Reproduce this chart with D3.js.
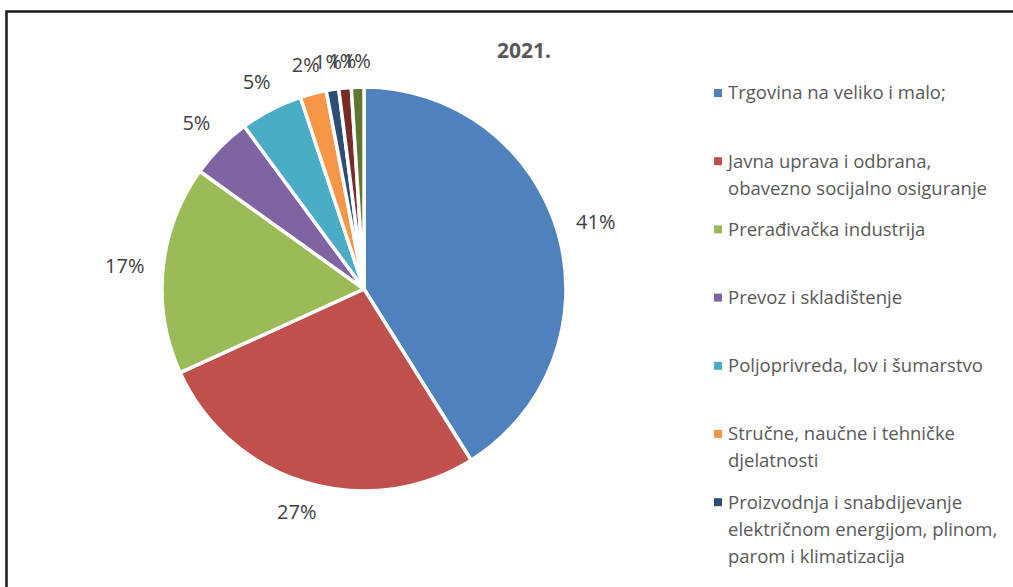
<!DOCTYPE html>
<html>
<head>
<meta charset="utf-8">
<script src="https://cdn.jsdelivr.net/npm/d3@7"></script>
<style>
  body { margin: 0; background: #fff; }
  svg text { font-family: "Open Sans", Lato, sans-serif; }
</style>
</head>
<body>
<div id="chart"></div>
<script>
// data
var categories = [
  ["Trgovina na veliko i malo;"],
  ["Javna uprava i odbrana,", "obavezno socijalno osiguranje"],
  ["Prerađivačka industrija"],
  ["Prevoz i skladištenje"],
  ["Poljoprivreda, lov i šumarstvo"],
  ["Stručne, naučne i tehničke", "djelatnosti"],
  ["Proizvodnja i snabdijevanje", "električnom energijom, plinom,", "parom i klimatizacija"],
  ["Informacije i komunikacije"],
  ["Građevinarstvo"]
]
var values = [41.1, 27.1, 16.7, 5.0, 5.0, 2.1, 1.0, 1.0, 1.0]
var labels = ["41%", "27%", "17%", "5%", "5%", "2%", "1%", "1%", "1%"]
var colors = ["#4F81BD", "#C0504D", "#9BBB59", "#8064A2", "#4BACC6", "#F79646", "#2C4D75", "#772C2A", "#5F7530"]

var width = 1013, height = 587
var cx = 364, cy = 289, radius = 202

var svg = d3.select("#chart").append("svg")
  .attr("width", width)
  .attr("height", height)

// frame
svg.append("rect")
  .attr("x", 6.5).attr("y", 11.5)
  .attr("width", 1100).attr("height", 700)
  .attr("fill", "none")
  .attr("stroke", "#1a1a1a")
  .attr("stroke-width", 2.5)

svg.append("text")
  .attr("x", 524).attr("y", 58)
  .attr("text-anchor", "middle")
  .attr("font-size", 21)
  .attr("font-weight", "bold")
  .attr("fill", "#595959")
  .text("2021.")

var pie = d3.pie().sort(null).value(function(d) { return d })
var arcs = pie(values)

var arc = d3.arc().innerRadius(0).outerRadius(radius)

var g = svg.append("g").attr("transform", "translate(" + cx + "," + cy + ")")

g.selectAll(".slice")
  .data(arcs)
  .enter().append("path")
  .attr("class", "slice")
  .attr("d", arc)
  .attr("fill", function(d, i) { return colors[i] })
  .attr("stroke", "#fff")
  .attr("stroke-width", 3.5)
  .attr("stroke-linejoin", "round")

// labels sit just outside the pie, with the nearest box edge at a fixed gap
var gap = radius + 18
g.selectAll(".pct")
  .data(arcs)
  .enter().append("text")
  .attr("class", "pct")
  .attr("text-anchor", "middle")
  .attr("dy", "0.35em")
  .attr("font-size", 20)
  .attr("fill", "#404040")
  .text(function(d, i) { return labels[i] })
  .attr("transform", function(d) {
    var a = (d.startAngle + d.endAngle) / 2
    var w = this.getComputedTextLength()
    var dist = gap + Math.abs(Math.sin(a)) * w / 2 + Math.abs(Math.cos(a)) * 8
    return "translate(" + (Math.sin(a) * dist) + "," + (-Math.cos(a) * dist) + ")"
  })

// legend - entries 8 and 9 fall below the visible area like in the source
var legend = svg.append("g")
var y = 93
categories.forEach(function(lines, i) {
  if (y > height) return
  legend.append("rect")
    .attr("x", 714).attr("y", y - 4)
    .attr("width", 8).attr("height", 8)
    .attr("fill", colors[i])
  lines.forEach(function(line, j) {
    legend.append("text")
      .attr("x", 728).attr("y", y + j * 27)
      .attr("dy", "0.35em")
      .attr("font-size", 18.5)
      .attr("fill", "#595959")
      .text(line)
  })
  y += lines.length < 3 ? 68.2 : 120
})
</script>
</body>
</html>
